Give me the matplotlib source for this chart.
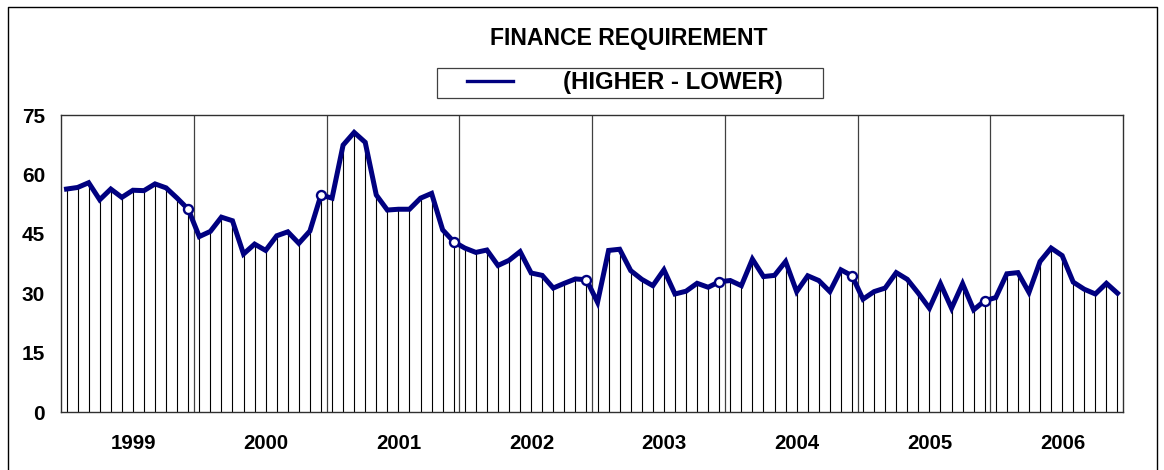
import matplotlib
matplotlib.use("Agg")
import matplotlib.pyplot as plt
from matplotlib.lines import Line2D
from matplotlib.patches import Rectangle
from matplotlib.transforms import ScaledTranslation
import numpy as np

plt.rcParams['font.family'] = ['Liberation Sans', 'DejaVu Sans']

years = ["1999", "2000", "2001", "2002", "2003", "2004", "2005", "2006"]
values = [
    56.3, 56.7, 57.9, 53.6, 56.3, 54.2, 56.0, 55.9, 57.6, 56.6, 54.0, 51.2,
    44.3, 45.6, 49.2, 48.3, 39.9, 42.4, 40.8, 44.5, 45.5, 42.6, 45.7, 54.8,
    54.0, 67.4, 70.6, 68.1, 54.8, 51.0, 51.2, 51.2, 54.0, 55.2, 46.0, 43.0,
    41.4, 40.3, 40.9, 37.0, 38.3, 40.5, 35.1, 34.5, 31.3, 32.5, 33.6, 33.4,
    27.7, 40.8, 41.1, 35.7, 33.5, 31.9, 35.9, 29.8, 30.5, 32.5, 31.5, 32.9,
    33.2, 31.9, 38.6, 34.2, 34.5, 38.0, 30.4, 34.4, 33.2, 30.4, 35.9, 34.4,
    28.5, 30.4, 31.3, 35.2, 33.5, 30.0, 26.2, 32.4, 26.2, 32.4, 25.8, 28.1,
    28.9, 34.9, 35.2, 30.2, 38.0, 41.4, 39.5, 32.8, 31.0, 29.8, 32.5, 30.0,
]
marker_idx = [11, 23, 35, 47, 59, 71, 83]
yticks = [0, 15, 30, 45, 60, 75]
title = "FINANCE REQUIREMENT"
legend_label = "(HIGHER - LOWER)"

W, H = 1164, 470
fig = plt.figure(figsize=(W / 100, H / 100), dpi=100)
ax = fig.add_axes([61 / W, 1 - 412 / H, (1123 - 61) / W, (412 - 115) / H])

n = len(values)
x = np.arange(n) + 0.5
vals = np.array(values)

# drop lines
ax.vlines(x, 0, vals, colors='black', linewidth=0.8, zorder=2)
# year separators
for k in range(1, len(years)):
    ax.axvline(12 * k, color='#404040', linewidth=0.9, zorder=1)
# main line
ax.plot(x, vals, color='#000080', linewidth=3.6, solid_joinstyle='miter', zorder=3)
ax.plot(x[marker_idx], vals[marker_idx], linestyle='none', marker='o',
        markersize=6.5, markerfacecolor='white', markeredgecolor='#000080',
        markeredgewidth=1.7, zorder=4)

ax.set_xlim(0, n)
ax.set_ylim(0, 75)
ax.set_yticks(yticks)
ax.set_yticklabels([str(v) for v in yticks], fontsize=15, fontweight='bold')
ax.tick_params(axis='y', length=0, pad=11.5)
ax.set_xticks([12 * k + 6 for k in range(len(years))])
ax.set_xticklabels(years, fontsize=14.7, fontweight='bold')
ax.tick_params(axis='x', length=0, pad=16)
shift = ScaledTranslation(0.06, 0, fig.dpi_scale_trans)
for lbl in ax.get_xticklabels():
    lbl.set_transform(lbl.get_transform() + shift)
for s in ax.spines.values():
    s.set_color('#303030')
    s.set_linewidth(1.0)

# title
fig.text(629 / W, 1 - 39 / H, title, ha='center', va='center',
         fontsize=16.6, fontweight='bold')

# legend box
fig.add_artist(Rectangle((437 / W, 1 - 98 / H), (823 - 437) / W, 30 / H,
                         transform=fig.transFigure, fill=False,
                         edgecolor='#404040', linewidth=0.9))
fig.add_artist(Line2D([467 / W, 513 / W], [1 - 81 / H, 1 - 81 / H],
                      transform=fig.transFigure, color='#000080', linewidth=2.4))
fig.text(673 / W, 1 - 82 / H, legend_label, ha='center', va='center',
         fontsize=17.3, fontweight='bold')

# outer chart border
fig.add_artist(Line2D([8 / W, 8 / W, 1157 / W, 1157 / W],
                      [0, 1 - 7 / H, 1 - 7 / H, 0],
                      transform=fig.transFigure, color='black', linewidth=1.0))

fig.savefig('out.png', dpi=100, facecolor='white')
